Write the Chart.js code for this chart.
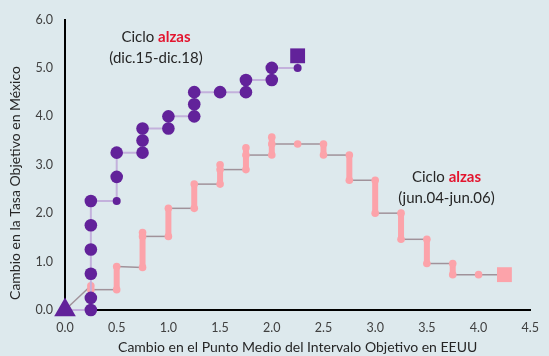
<!DOCTYPE html>
<html lang="es">
<head>
<meta charset="utf-8">
<script src="https://cdn.jsdelivr.net/npm/chart.js@4.4.1/dist/chart.umd.min.js"></script>
<style>
    html, body { margin: 0; padding: 0; background: #dde9ed; }
    #wrap { width: 549px; height: 356px; position: relative; }
</style>
</head>
<body>
<div id="wrap"><canvas id="ciclosChart"></canvas></div>
<script>
// Ciclo de alzas dic.15-dic.18 (cambio acumulado, pp)
const eeuuDic15 = [0, 0.25, 0.25, 0.25, 0.25, 0.25, 0.25, 0.5, 0.5, 0.5, 0.75, 0.75, 0.75, 1.0, 1.0, 1.25, 1.25, 1.25, 1.5, 1.75, 1.75, 2.0, 2.0, 2.25, 2.25];
const mexDic15  = [0, 0, 0.25, 0.75, 1.25, 1.75, 2.25, 2.25, 2.75, 3.25, 3.25, 3.5, 3.75, 3.75, 4.0, 4.0, 4.25, 4.5, 4.5, 4.5, 4.75, 4.75, 5.0, 5.0, 5.25];

// Ciclo de alzas jun.04-jun.06
const eeuuJun04 = [0, 0.25, 0.25, 0.5, 0.5, 0.75, 0.75, 0.75, 1.0, 1.0, 1.25, 1.25, 1.5, 1.5, 1.5, 1.75, 1.75, 1.75, 2.0, 2.0, 2.0, 2.25, 2.5, 2.5, 2.75, 2.75, 3.0, 3.0, 3.25, 3.25, 3.5, 3.5, 3.75, 3.75, 4.0, 4.25];
const mexJun04  = [0, 0.5, 0.42, 0.42, 0.9, 0.88, 1.6, 1.52, 1.52, 2.1, 2.1, 2.6, 2.6, 3.0, 2.9, 2.9, 3.35, 3.2, 3.2, 3.57, 3.43, 3.43, 3.43, 3.2, 3.2, 2.68, 2.68, 2.0, 2.0, 1.46, 1.46, 0.96, 0.96, 0.73, 0.73, 0.73];

const yTicks = [0, 1, 2, 3, 4, 5, 6];
const xTicks = [0, 0.5, 1.0, 1.5, 2.0, 2.5, 3.0, 3.5, 4.0, 4.5];

const tituloX = 'Cambio en el Punto Medio del Intervalo Objetivo en EEUU';
const tituloY = 'Cambio en la Tasa Objetivo en México';

const MORADO = '#62229a';
const ROSA = '#fca3aa';
const FUENTE = 'Lato, "Noto Sans", sans-serif';

function toPoints(xs, ys) {
    return xs.map((x, i) => ({ x: x, y: ys[i] }));
}

// puntos "chicos" del ciclo 2015 (mes en que ambos bancos subieron)
const chicos = [7, 23];

const radioMorado = eeuuDic15.map((_, i) => {
    if (i === 0) return 12.5;
    if (i === eeuuDic15.length - 1) return 10.5;
    return chicos.includes(i) ? 4 : 6.3;
});
const estiloMorado = eeuuDic15.map((_, i) =>
    i === 0 ? 'triangle' : (i === eeuuDic15.length - 1 ? 'rect' : 'circle'));

const radioRosa = eeuuJun04.map((_, i) => {
    if (i === 0) return 0;
    if (i === eeuuJun04.length - 1) return 10.5;
    return 3.8;
});
const estiloRosa = eeuuJun04.map((_, i) => i === eeuuJun04.length - 1 ? 'rect' : 'circle');

// Etiquetas de texto (en coordenadas de datos)
const notas = [
    { x: 0.88, y: 5.63, linea2: '(dic.15-dic.18)' },
    { x: 3.69, y: 2.74, linea2: '(jun.04-jun.06)' }
];

const notasPlugin = {
    id: 'notas',
    afterDatasetsDraw(chart) {
        const ctx = chart.ctx;
        const sx = chart.scales.x, sy = chart.scales.y;
        ctx.save();
        ctx.textBaseline = 'middle';
        notas.forEach(n => {
            const px = sx.getPixelForValue(n.x);
            const py = sy.getPixelForValue(n.y);
            ctx.font = '15px ' + FUENTE;
            const w1 = ctx.measureText('Ciclo ').width;
            ctx.font = 'bold 15px ' + FUENTE;
            const w2 = ctx.measureText('alzas').width;
            let left = px - (w1 + w2) / 2;
            ctx.textAlign = 'left';
            ctx.font = '15px ' + FUENTE;
            ctx.fillStyle = '#262626';
            ctx.fillText('Ciclo ', left, py);
            ctx.font = 'bold 15px ' + FUENTE;
            ctx.fillStyle = '#e3142e';
            ctx.fillText('alzas', left + w1, py);
            ctx.font = '15px ' + FUENTE;
            ctx.fillStyle = '#262626';
            ctx.textAlign = 'center';
            ctx.fillText(n.linea2, px, py + 21);
        });

        // titulo del eje Y, un poco mas abajo que el centro del area
        ctx.font = '14px ' + FUENTE;
        ctx.fillStyle = '#262626';
        ctx.textAlign = 'center';
        ctx.translate(15, 183);
        ctx.rotate(-Math.PI / 2);
        ctx.fillText(tituloY, 0, 0);
        ctx.restore();
    }
};

function createChart() {
    new Chart(document.getElementById('ciclosChart').getContext('2d'), {
        type: 'scatter',
        data: {
            datasets: [{
                label: 'dic.15-dic.18',
                data: toPoints(eeuuDic15, mexDic15),
                showLine: true,
                borderColor: '#c3b1dc',
                borderWidth: 2,
                backgroundColor: MORADO,
                pointBorderColor: MORADO,
                pointBorderWidth: 0,
                pointRadius: radioMorado,
                pointStyle: estiloMorado,
                clip: false
            }, {
                label: 'jun.04-jun.06',
                data: toPoints(eeuuJun04, mexJun04),
                showLine: true,
                borderColor: '#a0929a',
                borderWidth: 1.5,
                backgroundColor: ROSA,
                pointBorderColor: ROSA,
                pointBorderWidth: 0,
                pointRadius: radioRosa,
                pointStyle: estiloRosa,
                clip: false,
                segment: {
                    // tramos verticales como barra gruesa rosa
                    borderColor: c => c.p0.parsed.x === c.p1.parsed.x ? ROSA : undefined,
                    borderWidth: c => c.p0.parsed.x === c.p1.parsed.x ? 6 : undefined
                }
            }]
        },
        options: {
            responsive: true,
            maintainAspectRatio: false,
            animation: false,
            layout: { padding: { top: 19, right: 11.5, left: 0, bottom: 0 } },
            plugins: {
                legend: { display: false },
                tooltip: { enabled: false }
            },
            scales: {
                x: {
                    type: 'linear',
                    min: 0,
                    max: 4.5,
                    afterFit: s => { s.height = 46; },
                    afterBuildTicks: s => { s.ticks = xTicks.map(v => ({ value: v })); },
                    grid: { display: false, drawTicks: false },
                    border: { display: true, color: '#000', width: 2 },
                    ticks: {
                        padding: 10,
                        color: '#404040',
                        font: { family: FUENTE, size: 12.5 },
                        callback: v => v.toFixed(1)
                    },
                    title: {
                        display: true,
                        text: tituloX,
                        color: '#262626',
                        font: { family: FUENTE, size: 14 },
                        padding: { top: 0, bottom: 0 }
                    }
                },
                y: {
                    type: 'linear',
                    min: 0,
                    max: 6,
                    afterFit: s => { s.width = 65; },
                    afterBuildTicks: s => { s.ticks = yTicks.map(v => ({ value: v })); },
                    grid: { display: false, drawTicks: false },
                    border: { display: true, color: '#000', width: 2 },
                    ticks: {
                        padding: 12,
                        color: '#404040',
                        font: { family: FUENTE, size: 12.5 },
                        callback: v => v.toFixed(1)
                    },
                    title: { display: false }
                }
            }
        },
        plugins: [notasPlugin]
    });
}

document.addEventListener('DOMContentLoaded', createChart);
</script>
</body>
</html>
